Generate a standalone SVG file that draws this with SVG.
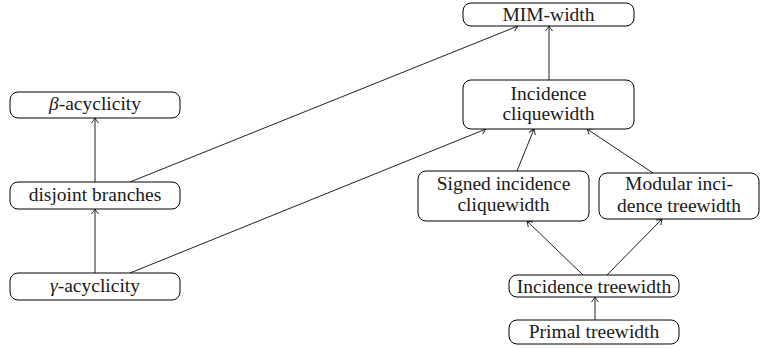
<svg xmlns="http://www.w3.org/2000/svg" width="761" height="349" viewBox="0 0 761 349">
<style>
.n rect{fill:#fff;stroke:#000;stroke-width:1}
.n text{font-family:"Liberation Serif","Times New Roman",serif;font-size:19.5px;fill:#1a1a1a;text-anchor:middle}
.e line{stroke:#222;stroke-width:1;marker-end:url(#a)}
</style>
<defs>
<marker id="a" markerWidth="10" markerHeight="10" refX="7" refY="5" orient="auto" markerUnits="userSpaceOnUse">
<path d="M2,1.5 Q5,4 7,5 Q5,6 2,8.5" fill="none" stroke="#222" stroke-width="1"/>
</marker>
</defs>
<g class="e">
<line x1="95" y1="182" x2="95" y2="118"/>
<line x1="95" y1="273" x2="95" y2="209"/>
<line x1="130" y1="182" x2="518" y2="26"/>
<line x1="130" y1="273" x2="486" y2="129"/>
<line x1="549" y1="80" x2="549" y2="26"/>
<line x1="517" y1="171" x2="534" y2="129"/>
<line x1="653" y1="173" x2="587" y2="129"/>
<line x1="583" y1="275" x2="527" y2="221"/>
<line x1="607" y1="275" x2="662" y2="219"/>
<line x1="595" y1="320" x2="595" y2="297"/>
</g>
<g id="mim" class="n"><rect x="463" y="3" width="171" height="23" rx="8"/><text x="548.5" y="21">MIM-width</text></g>
<g id="ic" class="n"><rect x="463" y="80" width="171" height="49" rx="8"/><text x="548.5" y="100">Incidence</text><text x="548.5" y="119.5">cliquewidth</text></g>
<g id="beta" class="n"><rect x="10" y="92" width="170" height="26" rx="8"/><text x="95" y="110"><tspan font-style="italic">β</tspan>-acyclicity</text></g>
<g id="db" class="n"><rect x="10" y="182" width="170" height="27" rx="8"/><text x="95" y="200.5">disjoint branches</text></g>
<g id="gamma" class="n"><rect x="10" y="273" width="170" height="27" rx="8"/><text x="95" y="291.5"><tspan font-style="italic">γ</tspan>-acyclicity</text></g>
<g id="sic" class="n"><rect x="418" y="171" width="171" height="50" rx="8"/><text x="503.5" y="190">Signed incidence</text><text x="503.5" y="210.5">cliquewidth</text></g>
<g id="mit" class="n"><rect x="599" y="173" width="160" height="46" rx="8"/><text x="679" y="190">Modular inci-</text><text x="679" y="212">dence treewidth</text></g>
<g id="it" class="n"><rect x="509" y="275" width="170" height="22" rx="8"/><text x="594" y="292.5">Incidence treewidth</text></g>
<g id="pt" class="n"><rect x="509" y="320" width="170" height="24" rx="8"/><text x="594" y="337.5">Primal treewidth</text></g>
</svg>
